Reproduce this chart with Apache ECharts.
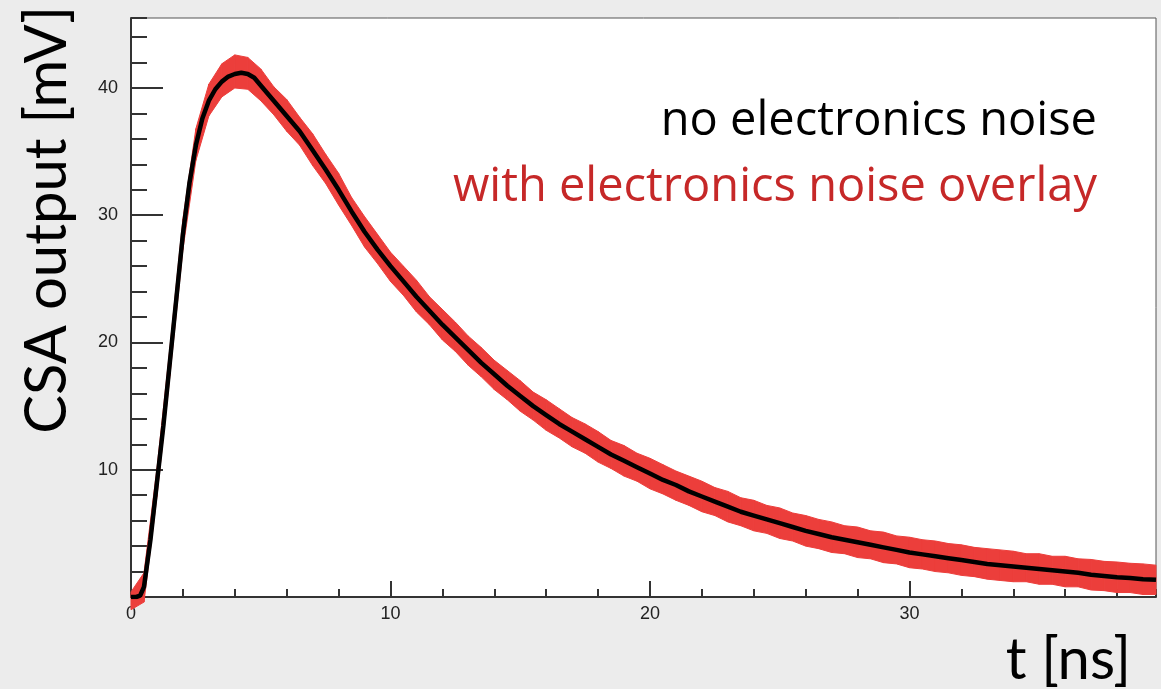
<!DOCTYPE html>
<html>
<head>
<meta charset="utf-8">
<script src="https://cdn.jsdelivr.net/npm/echarts@6/dist/echarts.min.js"></script>
<style>
  html, body { margin: 0; padding: 0; background: #ececec; }
  #chart { width: 1161px; height: 689px; }
</style>
</head>
<body>
<div id="chart"></div>
<script>
// signal without noise (t in ns, CSA output in mV)
var tSignal = [0, 0.2, 0.35, 0.5, 0.75, 1, 1.25, 1.5, 1.75, 2, 2.25, 2.5, 2.75, 3, 3.25, 3.5, 3.75, 4, 4.25, 4.5, 4.75,
  5, 5.5, 6, 6.5, 7, 7.5, 8, 8.5, 9, 9.5, 10, 10.5, 11, 11.5, 12, 12.5, 13, 13.5, 14, 14.5, 15, 15.5, 16, 16.5, 17, 17.5,
  18, 18.5, 19, 19.5, 20, 20.5, 21, 21.5, 22, 22.5, 23, 23.5, 24, 24.5, 25, 25.5, 26, 26.5, 27, 27.5, 28, 28.5, 29, 29.5,
  30, 30.5, 31, 31.5, 32, 32.5, 33, 33.5, 34, 34.5, 35, 35.5, 36, 36.5, 37, 37.5, 38, 38.5, 39, 39.5];
var vSignal = [0, 0, 0.1, 0.8, 4.5, 9.0, 13.5, 18.5, 23.5, 28.5, 32.5, 35.5, 37.6, 39.0, 39.9, 40.5, 40.9, 41.1, 41.2, 41.1, 40.8,
  40.2, 39.0, 37.8, 36.6, 35.1, 33.6, 32.0, 30.3, 28.7, 27.3, 26.0, 24.8, 23.6, 22.5, 21.4, 20.4, 19.4, 18.4, 17.5, 16.6, 15.8, 15.0,
  14.3, 13.6, 13.0, 12.4, 11.8, 11.2, 10.7, 10.2, 9.7, 9.2, 8.8, 8.3, 7.9, 7.5, 7.1, 6.7, 6.4, 6.1, 5.8, 5.5, 5.2, 4.95, 4.7, 4.5,
  4.3, 4.1, 3.9, 3.7, 3.5, 3.35, 3.2, 3.05, 2.9, 2.75, 2.6, 2.5, 2.4, 2.3, 2.2, 2.1, 2.0, 1.9, 1.75, 1.65, 1.55, 1.5, 1.4, 1.35];

// envelope of the trace with electronics noise overlay
var tNoise = [0, 0.5, 1, 1.5, 2, 2.5, 3, 3.5, 4, 4.5, 5, 5.5, 6, 6.5, 7, 7.5, 8, 8.5, 9, 9.5, 10, 10.5, 11, 11.5, 12, 12.5,
  13, 13.5, 14, 14.5, 15, 15.5, 16, 16.5, 17, 17.5, 18, 18.5, 19, 19.5, 20, 20.5, 21, 21.5, 22, 22.5, 23, 23.5, 24, 24.5,
  25, 25.5, 26, 26.5, 27, 27.5, 28, 28.5, 29, 29.5, 30, 30.5, 31, 31.5, 32, 32.5, 33, 33.5, 34, 34.5, 35, 35.5, 36, 36.5,
  37, 37.5, 38, 38.5, 39, 39.5];
var noiseHigh = [0.4, 1.9, 10.1, 19.6, 29.7, 36.8, 40.3, 41.9, 42.6, 42.4, 41.5, 40.1, 39.1, 37.7, 36.4, 34.8, 33.3, 31.4, 29.9, 28.5,
  27.1, 26.0, 24.9, 23.6, 22.6, 21.6, 20.5, 19.6, 18.6, 17.8, 17.0, 16.1, 15.5, 14.8, 14.1, 13.6, 13.0, 12.3, 11.9, 11.3,
  10.9, 10.4, 9.9, 9.5, 9.1, 8.6, 8.3, 7.8, 7.6, 7.2, 7.0, 6.6, 6.4, 6.1, 5.9, 5.6, 5.5, 5.2, 5.1, 4.8,
  4.7, 4.5, 4.4, 4.2, 4.1, 3.9, 3.8, 3.7, 3.6, 3.4, 3.4, 3.2, 3.2, 3.0, 2.95, 2.8, 2.75, 2.65, 2.6, 2.5];
var noiseLow = [-1.0, -0.4, 7.9, 17.4, 27.3, 34.3, 37.8, 39.3, 40.0, 39.9, 39.0, 37.9, 36.6, 35.5, 33.9, 32.5, 30.8, 29.2, 27.5, 26.2,
  24.8, 23.7, 22.4, 21.4, 20.2, 19.3, 18.2, 17.3, 16.3, 15.5, 14.6, 13.9, 13.1, 12.5, 11.8, 11.3, 10.6, 10.1, 9.5, 9.1,
  8.5, 8.1, 7.6, 7.2, 6.7, 6.4, 5.9, 5.6, 5.2, 5.0, 4.6, 4.4, 4.0, 3.8, 3.5, 3.4, 3.1, 3.0, 2.7, 2.6,
  2.3, 2.2, 2.0, 1.9, 1.7, 1.6, 1.4, 1.3, 1.2, 1.2, 1.0, 1.0, 0.8, 0.8, 0.55, 0.5, 0.35, 0.35, 0.2, 0.2];

var xMax = 39.5, yMax = 45.5;
var labelFont = 'Liberation Sans';
var textFont = 'Lato';
var noiseRed = '#ec3e3b';

var signalData = tSignal.map(function (t, i) { return [t, vSignal[i]]; });
var bandData = tNoise.map(function (t, i) { return [t, noiseLow[i], noiseHigh[i]]; });

// noise band: one quad per step between low and high envelope
function renderBand(params, api) {
  var i = params.dataIndex;
  if (i >= tNoise.length - 1) return null;
  var pts = [
    api.coord([tNoise[i], noiseLow[i]]),
    api.coord([tNoise[i + 1], noiseLow[i + 1]]),
    api.coord([tNoise[i + 1], noiseHigh[i + 1]]),
    api.coord([tNoise[i], noiseHigh[i]])
  ];
  return {
    type: 'polygon',
    shape: { points: pts },
    style: { fill: noiseRed, stroke: noiseRed, lineWidth: 1 }
  };
}

var chart = echarts.init(document.getElementById('chart'));
chart.setOption({
  backgroundColor: '#ececec',
  animation: false,
  grid: {
    left: 131, right: 5, top: 18, bottom: 92,
    show: true, backgroundColor: '#fff', borderColor: '#555', borderWidth: 1
  },
  xAxis: [
    {
      type: 'value', min: 0, max: xMax, interval: 10,
      axisLine: { lineStyle: { color: '#333', width: 2 } },
      axisTick: { inside: true, length: 16, lineStyle: { color: '#333', width: 2 } },
      axisLabel: { fontFamily: labelFont, fontSize: 18, color: '#222', margin: 8, showMaxLabel: false },
      splitLine: { show: false }
    },
    {
      type: 'value', min: 0, max: xMax, interval: 2, position: 'bottom',
      axisLine: { show: false },
      axisTick: { inside: true, length: 8, lineStyle: { color: '#333', width: 2 } },
      axisLabel: { show: false },
      splitLine: { show: false }
    }
  ],
  yAxis: [
    {
      type: 'value', min: 0, max: yMax, interval: 10,
      axisLine: { show: true, lineStyle: { color: '#333', width: 2 } },
      axisTick: { show: true, inside: true, length: 32, lineStyle: { color: '#333', width: 2 } },
      axisLabel: { fontFamily: labelFont, fontSize: 18, color: '#222', margin: 13, showMaxLabel: false, showMinLabel: false },
      splitLine: { show: false }
    },
    {
      type: 'value', min: 0, max: yMax, interval: 2, position: 'left',
      axisLine: { show: false },
      axisTick: { show: true, inside: true, length: 16, lineStyle: { color: '#333', width: 2 } },
      axisLabel: { show: false },
      splitLine: { show: false }
    }
  ],
  series: [
    {
      name: 'with electronics noise overlay', type: 'custom', data: bandData,
      renderItem: renderBand, clip: false, z: 2,
      encode: { x: 0, y: [1, 2] }
    },
    {
      name: 'no electronics noise', type: 'line', data: signalData,
      showSymbol: false, z: 3,
      lineStyle: { color: '#000', width: 4.5 }
    }
  ],
  graphic: [
    {
      type: 'text', x: 47, y: 6, rotation: Math.PI / 2,
      style: { text: 'CSA output [mV]', font: '58px ' + textFont, fill: '#000', textAlign: 'right', textVerticalAlign: 'middle' }
    },
    {
      type: 'text', x: 1131, y: 660,
      style: { text: 't [ns]', font: '58px ' + textFont, fill: '#000', textAlign: 'right', textVerticalAlign: 'middle' }
    },
    {
      type: 'text', x: 1097, y: 122,
      style: { text: 'no electronics noise', font: '47px Open Sans', fill: '#000', textAlign: 'right', textVerticalAlign: 'middle' }
    },
    {
      type: 'text', x: 1097, y: 188,
      style: { text: 'with electronics noise overlay', font: '47px Open Sans', fill: '#c62828', textAlign: 'right', textVerticalAlign: 'middle' }
    }
  ]
});
</script>
</body>
</html>
